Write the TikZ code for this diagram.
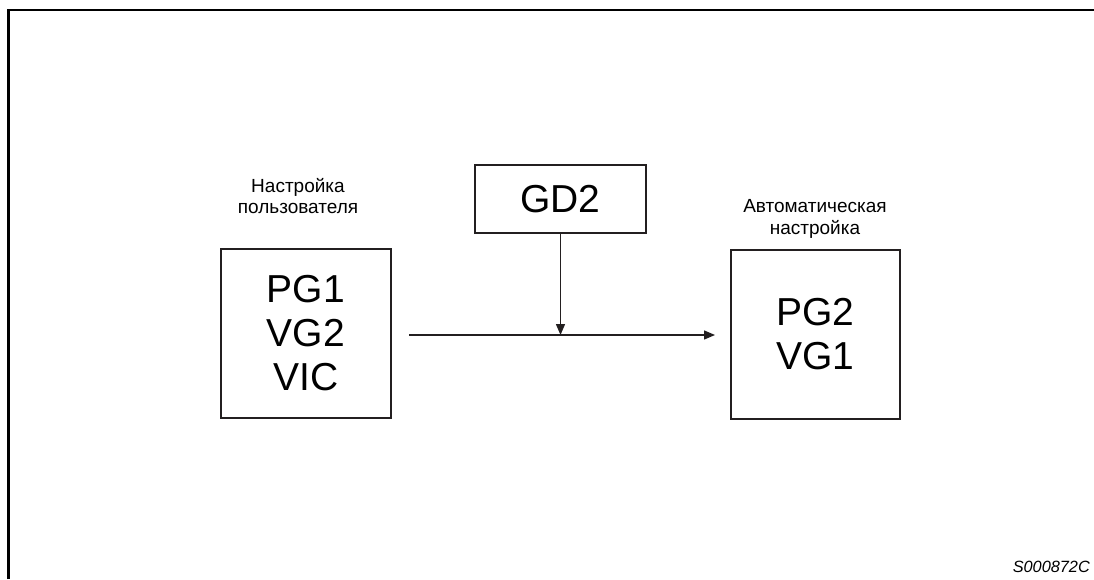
\documentclass[tikz,border=0pt]{standalone}
\usepackage{fontspec}
\setmainfont{Liberation Sans}
\usetikzlibrary{arrows.meta,positioning}
\definecolor{inkline}{RGB}{35,31,32}

\begin{document}
\begin{tikzpicture}[
  x=1pt, y=-1pt,
  parbox/.style={rectangle, draw=inkline, line width=1.3pt, align=center,
                 inner sep=0pt, font=\fontsize{39}{44}\selectfont},
  caption/.style={align=center, inner sep=0pt,
                  font=\fontsize{19}{21.5}\selectfont},
  arr/.style={-{Triangle[length=11pt,width=9pt]}, line width=1.4pt, inkline}
]
\useasboundingbox (0,0) rectangle (1094,579);
% frame
\draw[line width=2.5pt] (8.5,579) -- (8.5,10) -- (1094,10);
% boxes
\node[parbox, minimum width=170, minimum height=169] (user) at (306,333.5)
  {PG1\\VG2\\VIC};
\node[parbox, minimum width=169, minimum height=169] (auto) at (815.5,334.5)
  {PG2\\VG1};
\node[parbox, minimum width=171, minimum height=68] (gd2) at (560.5,199) {GD2};
% captions
\node[caption] (userlbl) at (298,196) {Настройка\\пользователя};
\node[caption] (autolbl) at (815,219) {Автоматическая\\настройка};
\node[anchor=south east, inner sep=0pt, font=\fontsize{16.3}{16}\selectfont\itshape]
  (code) at (1090,573) {S000872C};
% connectors
\coordinate (hstart) at (409,335);
\coordinate (hend) at (715,335);
\draw[arr] (hstart) -- (hend);
\draw[arr] (gd2.south) -- (gd2.south |- hstart);
\end{tikzpicture}
\end{document}
